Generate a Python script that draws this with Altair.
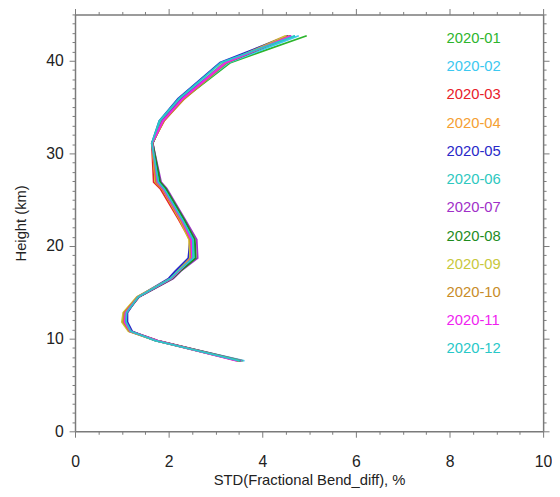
import altair as alt
import pandas as pd

heights = [7.6, 9.8, 10.8, 11.8, 12.8, 14.5, 16.5, 17.3, 18.7, 20.7, 22.8, 26.2, 26.9, 31.1, 33.5, 35.9, 39.8, 42.7]

months = ["2020-01", "2020-02", "2020-03", "2020-04", "2020-05", "2020-06",
          "2020-07", "2020-08", "2020-09", "2020-10", "2020-11", "2020-12"]

colors = ["#2db52d", "#3cc8f0", "#e8202a", "#f5a032", "#2828c8", "#2ec8c0",
          "#a030c8", "#1e8c1e", "#c8c83c", "#c88c28", "#f01ef0", "#28c8c8"]

v01 = [3.55, 1.74, 1.18, 1.08, 1.10, 1.36, 2.08, 2.24, 2.56, 2.52, 2.30, 1.90, 1.78, 1.66, 1.88, 2.32, 3.32, 4.95]
v02 = [3.62, 1.72, 1.16, 1.06, 1.08, 1.34, 2.06, 2.22, 2.52, 2.50, 2.28, 1.88, 1.76, 1.65, 1.86, 2.30, 3.28, 4.78]
v03 = [3.58, 1.76, 1.20, 1.08, 1.10, 1.36, 2.05, 2.20, 2.48, 2.45, 2.22, 1.82, 1.68, 1.64, 1.90, 2.32, 3.20, 4.55]
v04 = [3.52, 1.74, 1.16, 1.02, 1.04, 1.33, 2.04, 2.20, 2.45, 2.44, 2.24, 1.86, 1.72, 1.65, 1.88, 2.30, 3.18, 4.50]
v05 = [3.50, 1.70, 1.22, 1.12, 1.12, 1.34, 2.00, 2.14, 2.42, 2.46, 2.26, 1.88, 1.76, 1.64, 1.80, 2.20, 3.10, 4.55]
v06 = [3.58, 1.73, 1.18, 1.06, 1.08, 1.35, 2.06, 2.22, 2.56, 2.54, 2.32, 1.92, 1.80, 1.66, 1.84, 2.26, 3.20, 4.70]
v07 = [3.54, 1.77, 1.20, 1.08, 1.10, 1.37, 2.10, 2.26, 2.62, 2.60, 2.36, 1.96, 1.84, 1.66, 1.86, 2.28, 3.22, 4.60]
v08 = [3.52, 1.75, 1.18, 1.07, 1.09, 1.36, 2.08, 2.25, 2.58, 2.56, 2.34, 1.94, 1.82, 1.66, 1.88, 2.30, 3.24, 4.62]
v09 = [3.50, 1.73, 1.14, 1.00, 1.03, 1.32, 2.04, 2.20, 2.46, 2.44, 2.25, 1.86, 1.72, 1.65, 1.88, 2.32, 3.22, 4.52]
v10 = [3.48, 1.74, 1.16, 1.03, 1.05, 1.34, 2.05, 2.21, 2.48, 2.46, 2.26, 1.86, 1.73, 1.65, 1.90, 2.34, 3.24, 4.58]
v11 = [3.46, 1.75, 1.18, 1.06, 1.08, 1.35, 2.06, 2.22, 2.50, 2.48, 2.28, 1.88, 1.76, 1.65, 1.88, 2.30, 3.22, 4.62]
v12 = [3.52, 1.72, 1.19, 1.09, 1.10, 1.35, 2.04, 2.20, 2.52, 2.52, 2.30, 1.90, 1.78, 1.64, 1.80, 2.22, 3.12, 4.70]

series = [v01, v02, v03, v04, v05, v06, v07, v08, v09, v10, v11, v12]

x_ticks = [0, 0.5, 1, 1.5, 2, 2.5, 3, 3.5, 4, 4.5, 5, 5.5, 6, 6.5, 7, 7.5, 8, 8.5, 9, 9.5, 10]
y_ticks = list(range(0, 46))

rows = []
for m, vals in zip(months, series):
    for h, v in zip(heights, vals):
        rows.append({"month": m, "h": h, "v": v})
df = pd.DataFrame(rows)
leg = pd.DataFrame({"month": months})

FONT = "Liberation Sans"
GRAY = "#7a7a7a"

xscale = alt.Scale(domain=[0, 10], nice=False, zero=False)
yscale = alt.Scale(domain=[0, 45], nice=False, zero=False)
cscale = alt.Scale(domain=months, range=colors)


def make_axis(orient, values, major, show_labels, title=None, title_pad=0, label_pad=6):
    kw = dict(
        orient=orient,
        values=values,
        grid=False,
        labels=show_labels,
        tickSize={"condition": {"test": f"datum.value % {major} === 0", "value": 6}, "value": 3},
        tickColor=GRAY,
        tickWidth=1,
        domainColor=GRAY,
        domainWidth=1.5,
        labelOverlap=False,
        labelFlush=False,
    )
    if show_labels:
        kw.update(
            format="~g",
            labelExpr=f"datum.value % {major} === 0 ? datum.label : ''",
            labelFont=FONT, labelFontSize=16, labelColor="#222222", labelPadding=label_pad,
            title=title, titleFont=FONT, titleFontSize=15, titleFontWeight="normal",
            titleColor="#222222", titlePadding=title_pad,
        )
    else:
        kw.update(title=None)
    return alt.Axis(**kw)


lines = alt.Chart(df).mark_line(strokeWidth=1.8).encode(
    x=alt.X("v:Q", scale=xscale,
            axis=make_axis("bottom", x_ticks, 2, True, "STD(Fractional Bend_diff), %", 3, 17)),
    y=alt.Y("h:Q", scale=yscale,
            axis=make_axis("left", y_ticks, 10, True, "Height (km)", 17, 6)),
    color=alt.Color("month:N", scale=cscale, legend=None),
    detail="month:N",
    order=alt.Order("h:Q"),
)

mirror = alt.Chart(df).mark_point(opacity=0).encode(
    x=alt.X("v:Q", scale=xscale, axis=make_axis("top", x_ticks, 2, False)),
    y=alt.Y("h:Q", scale=yscale, axis=make_axis("right", y_ticks, 10, False)),
)

labels = alt.Chart(leg).mark_text(align="left", baseline="middle", font=FONT, fontSize=15).encode(
    x=alt.value(377),
    y=alt.Y("month:O", scale=alt.Scale(type="point", range=[24, 339], padding=0), axis=None),
    color=alt.Color("month:N", scale=cscale, legend=None),
    text="month:N",
)

chart = (
    alt.layer(lines, mirror, labels)
    .resolve_scale(y="independent")
    .resolve_axis(x="independent", y="independent")
    .properties(
        width=475,
        height=423,
        autosize=alt.AutoSizeParams(type="none"),
        padding={"left": 68, "top": 3, "right": 9, "bottom": 55},
        background="white",
    )
    .configure_view(stroke=None)
)

chart.save("out.html", embed_options={"renderer": "svg", "actions": False})
